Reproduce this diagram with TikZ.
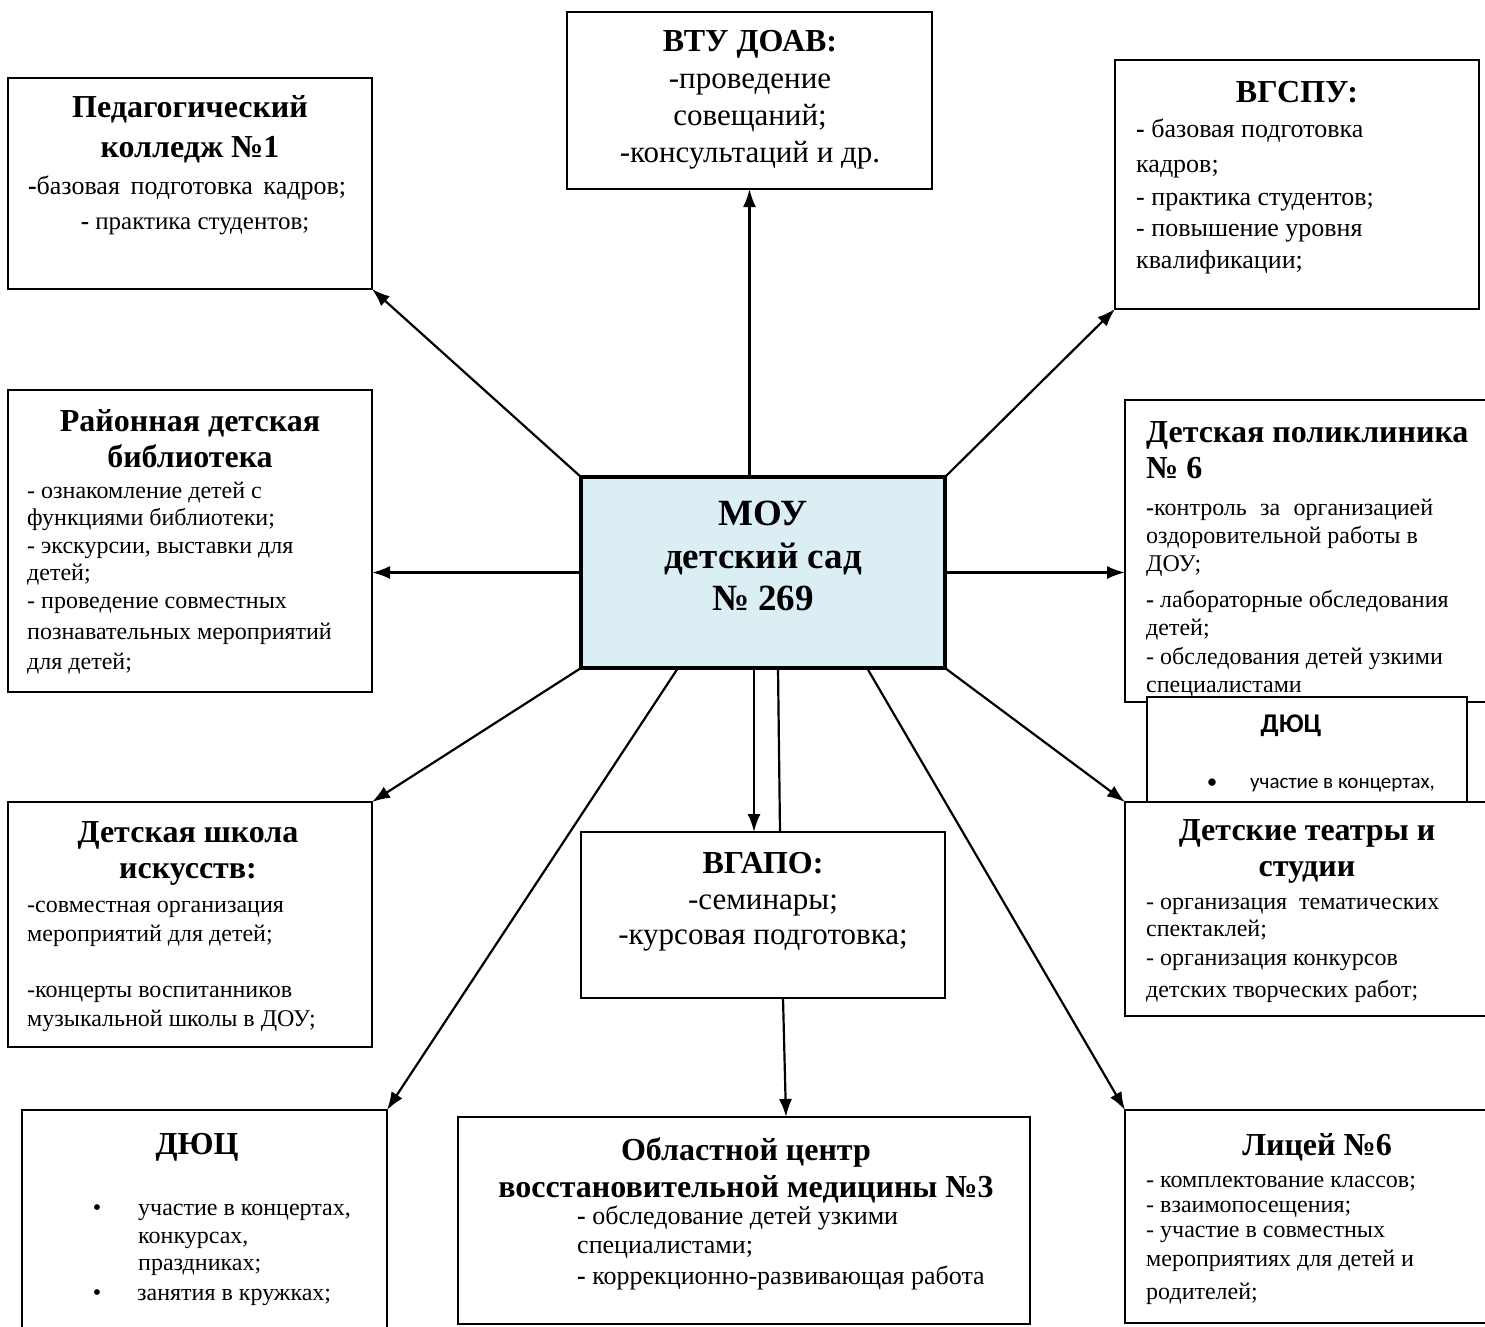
\documentclass[tikz,border=0pt]{standalone}
\usepackage{fontspec}
\setmainfont{Liberation Serif}
\newfontfamily\calib{Carlito}
\usetikzlibrary{arrows.meta}
\definecolor{moublue}{HTML}{DAEEF3}
\newcounter{tlc}
\newcommand{\txl}[4][body]{\stepcounter{tlc}\node[#1] (t\arabic{tlc}) at (#2,#3) {#4};}
\newcommand{\bx}[6][box]{\node[#1, minimum width={#5-#3}, minimum height={#6-#4}] (#2) at ({(#3+#5)/2},{(#4+#6)/2}) {};}
\tikzset{
 box/.style={draw, line width=2pt, fill=white, inner sep=0pt, outer sep=0pt},
 moubox/.style={box, fill=moublue, line width=3.8pt},
 title/.style={font=\fontsize{32}{36}\selectfont\bfseries, anchor=base, inner sep=0pt},
 titlel/.style={title, anchor=base west},
 body/.style={font=\fontsize{24}{28}\selectfont, anchor=base west, inner sep=0pt},
 bodyb/.style={font=\fontsize{26}{30}\selectfont, anchor=base west, inner sep=0pt},
 bodyc/.style={font=\fontsize{25}{30}\selectfont, anchor=base, inner sep=0pt},
 bodycb/.style={font=\fontsize{26}{30}\selectfont, anchor=base, inner sep=0pt},
 big/.style={font=\fontsize{31}{36}\selectfont, anchor=base, inner sep=0pt},
 moutxt/.style={font=\fontsize{37}{42}\selectfont\bfseries, anchor=base, inner sep=0pt},
 caltitle/.style={font=\calib\fontsize{27}{30}\selectfont\bfseries, anchor=base, inner sep=0pt},
 calbody/.style={font=\calib\fontsize{21}{26}\selectfont, anchor=base west, inner sep=0pt},
 calbul/.style={font=\calib\fontsize{21}{26}\selectfont, anchor=base, inner sep=0pt},
 bul/.style={font=\fontsize{24}{28}\selectfont, anchor=base, inner sep=0pt},
 link/.style={line width=2.2pt, -{Latex[length=18pt,width=13pt]}},
 plain/.style={line width=2.2pt},
}
\begin{document}
\begin{tikzpicture}[x=1pt,y=-1pt]
\clip (0,0) rectangle (1485,1326);
\fill[white] (0,0) rectangle (1485,1326);
% boxes
\bx{ped}{8}{78}{372}{289}
\bx{vtu}{567}{12}{932}{189}
\bx{vgspu}{1115}{60}{1479}{309}
\bx{lib}{8}{390}{372}{692}
\bx[moubox]{mou}{581}{477}{945}{668}
\bx{poly}{1125}{400}{1500}{702}
\bx{djcs}{1147}{697}{1467}{840}
\bx{theat}{1125}{802}{1500}{1016}
\bx{art}{8}{802}{372}{1047}
\bx{vgapo}{581}{832}{945}{998}
\bx{djc}{22}{1110}{387}{1345}
\bx{obl}{458}{1117}{1030}{1324}
\bx{lyc}{1125}{1110}{1500}{1323}
% connectors
\draw[link] (mou.north -| vtu.south) -- (vtu.south);
\draw[link] (mou.north west) -- (ped.south east);
\draw[link] (mou.north east) -- (vgspu.south west);
\draw[link] (mou.west) -- (mou.west -| lib.east);
\draw[link] (mou.east) -- (mou.east -| poly.west);
\draw[link] (mou.south west) -- (art.north east);
\draw[link] (mou.south east) -- (theat.north west);
\draw[link] ([xshift=-9pt]mou.south) -- ([xshift=-9pt]vgapo.north);
\draw[plain] ([xshift=15pt]mou.south) -- ([xshift=17pt]vgapo.north);
\draw[link] ([xshift=20pt]vgapo.south) -- ([xshift=42pt]obl.north);
\draw[link] ([xshift=-85pt]mou.south) -- (djc.north east);
\draw[link] ([xshift=104pt]mou.south) -- (lyc.north west);
% Педагогический колледж
\txl[title]{190}{117}{Педагогический}
\txl[title]{190}{157}{колледж №1}
\txl[bodycb]{187}{194}{\makebox[318pt][s]{\textbf{-}базовая подготовка кадров;}}
\txl[bodyc]{195}{229}{\textbf{-} практика студентов;}
% ВТУ ДОАВ
\txl[title]{750}{51}{ВТУ ДОАВ:}
\txl[big]{750}{88}{-проведение}
\txl[big]{750}{125}{совещаний;}
\txl[big]{750}{162}{-консультаций и др.}
% ВГСПУ
\txl[title]{1297}{102}{ВГСПУ:}
\txl[bodyb]{1136}{137}{\textbf{-} базовая подготовка}
\txl[bodyb]{1136}{172}{кадров;}
\txl[bodyb]{1136}{205}{- практика студентов;}
\txl[bodyb]{1136}{236}{- повышение уровня}
\txl[bodyb]{1136}{268}{квалификации;}
% Библиотека
\txl[title]{190}{431}{Районная детская}
\txl[title]{190}{467}{библиотека}
\txl{27}{498}{- ознакомление детей с}
\txl{27}{525}{функциями библиотеки;}
\txl{27}{553}{- экскурсии, выставки для}
\txl{27}{580}{детей;}
\txl{27}{608}{- проведение совместных}
\txl{27}{639}{познавательных мероприятий}
\txl{27}{669}{для детей;}
% МОУ
\txl[moutxt]{763}{525}{МОУ}
\txl[moutxt]{763}{568}{детский сад}
\txl[moutxt]{763}{610}{№ 269}
% Поликлиника
\txl[titlel]{1146}{442}{Детская поликлиника}
\txl[titlel]{1146}{478}{№ 6}
\txl{1146}{515}{\makebox[287pt][s]{\textbf{-}контроль за организацией}}
\txl{1146}{543}{оздоровительной работы в}
\txl{1146}{571}{ДОУ;}
\txl{1146}{607}{\textbf{-} лабораторные обследования}
\txl{1146}{635}{детей;}
\txl{1146}{664}{- обследования детей узкими}
\txl{1146}{692}{специалистами}
% ДЮЦ (наложенный)
\txl[caltitle]{1291}{732}{ДЮЦ}
\txl[calbul]{1212}{788}{•}
\txl[calbody]{1250}{788}{участие в концертах,}
% Театры
\txl[title]{1307}{840}{Детские театры и}
\txl[title]{1307}{876}{студии}
\txl{1146}{909}{- организация\ \ тематических}
\txl{1146}{936}{спектаклей;}
\txl{1146}{965}{- организация конкурсов}
\txl{1146}{997}{детских творческих работ;}
% Школа искусств
\txl[title]{188}{842}{Детская школа}
\txl[title]{188}{878}{искусств:}
\txl{27}{912}{-совместная организация}
\txl{27}{941}{мероприятий для детей;}
\txl{27}{997}{-концерты воспитанников}
\txl{27}{1026}{музыкальной школы в ДОУ;}
% ВГАПО
\txl[title]{763}{873}{ВГАПО:}
\txl[big]{763}{909}{-семинары;}
\txl[big]{763}{944}{-курсовая подготовка;}
% ДЮЦ
\txl[title]{197}{1154}{ДЮЦ}
\txl[bul]{97}{1215}{•}
\txl{138}{1215}{участие в концертах,}
\txl{138}{1243}{конкурсах,}
\txl{138}{1270}{праздниках;}
\txl[bul]{97}{1300}{•}
\txl{137}{1300}{занятия в кружках;}
% Областной центр
\txl[title]{746}{1160}{Областной центр}
\txl[title]{746}{1197}{восстановительной медицины №3}
\txl[bodyb]{577}{1224}{\textbf{-} обследование детей узкими}
\txl[bodyb]{577}{1253}{специалистами;}
\txl[bodyb]{577}{1284}{\textbf{-} коррекционно-развивающая работа}
% Лицей
\txl[title]{1317}{1155}{Лицей №6}
\txl{1146}{1187}{- комплектование классов;}
\txl{1146}{1212}{- взаимопосещения;}
\txl{1146}{1237}{- участие в совместных}
\txl{1146}{1266}{мероприятиях для детей и}
\txl{1146}{1299}{родителей;}
\end{tikzpicture}
\end{document}
